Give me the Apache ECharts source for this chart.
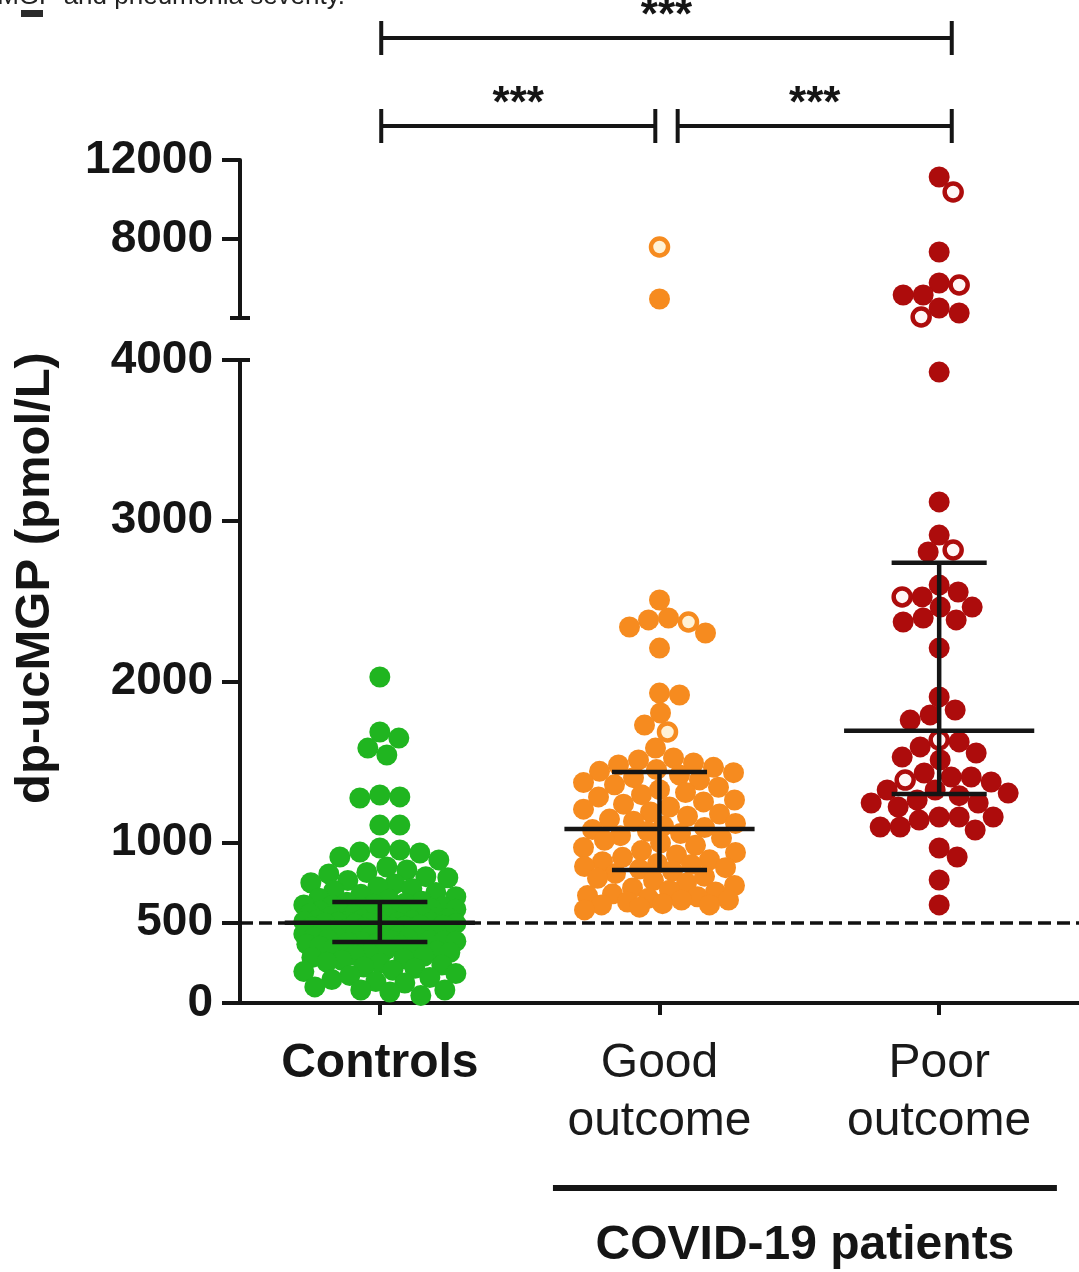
<!DOCTYPE html>
<html><head><meta charset="utf-8">
<script src="https://cdn.jsdelivr.net/npm/echarts@6/dist/echarts.min.js"></script>
<style>html,body{margin:0;padding:0;background:#fff}#c{width:1079px;height:1272px}</style>
</head><body><div id="c"></div>
<script>
// ---------------- data ----------------
const categories = ['Controls', 'Good\noutcome', 'Poor\noutcome'];
const groupColors = ['#20b520', '#f68b1f', '#ad0c0c'];
const openFill = ['#ffffff', '#fff2d6', '#fff6f6'];

const controlsFilled = [2028, 1686, 1648, 1586, 1543, 1294, 1282, 1275, 1107, 1107, 964, 952, 939, 933, 908, 890,
  846, 828, 812, 803, 786, 779, 762, 748, 741, 722, 713, 698, 688, 676, 661, 652, 644, 633,
  627, 621, 614, 610, 606, 598, 594, 589, 583, 580, 572, 569, 563, 558, 556, 549, 547, 542, 538, 534, 531, 526, 523, 519, 516, 513, 511, 507, 505, 503, 502, 501, 500,
  498, 494, 491, 486, 484, 481, 477, 473, 469, 466, 461, 456, 453, 449, 446, 441, 437, 433, 429, 424, 421, 417, 413, 409, 404, 401, 398, 394, 391, 389, 386, 384, 381,
  377, 371, 366, 358, 353, 344, 339, 331, 323, 314, 306, 297, 291, 283, 274, 266, 254, 246, 236, 224, 216, 204, 196, 183, 171, 158, 146, 133, 124, 100, 81, 81, 68, 47];
const controlsOpen = [];

const goodFilled = [4962, 2507, 2395, 2383, 2339, 2302, 2208, 1928, 1916, 1804, 1729, 1586, 1524, 1512, 1493,
  1481, 1466, 1452, 1441,
  1433, 1418, 1402, 1388, 1371, 1357, 1342, 1327, 1309, 1296, 1282, 1263, 1251, 1237, 1219, 1206, 1188, 1176, 1162, 1144,
  1131, 1117, 1102, 1091, 1079, 1068, 1054, 1041, 1026, 1012, 996, 981, 967, 948, 937, 921, 906, 891, 879, 868, 861, 849, 842, 833,
  821, 806, 788, 776, 762, 747, 731, 716, 702, 691, 679, 668, 661, 652, 640, 640, 628, 618, 610, 610, 596, 579];
const goodOpen = [7595, 2370, 1686];

const poorFilled = [11139, 7342, 5772, 5165, 5165, 4506, 4253, 3925, 3117, 2911, 2806,
  2600, 2557, 2526, 2463, 2463, 2395, 2383, 2370, 2208, 1904, 1823, 1792, 1760,
  1624, 1593, 1555, 1530, 1512, 1431, 1406, 1406, 1375, 1325, 1325, 1306, 1290, 1263, 1244, 1244, 1219,
  1157, 1157, 1157, 1138, 1095, 1095, 1076, 964, 908, 765, 610];
const poorOpen = [10380, 5671, 4051, 2818, 2526, 1636, 1387];

const medians = [500, 1083, 1693];
const q1 = [380, 828, 1300];
const q3 = [628, 1437, 2738];

const lowerTicks = [0, 500, 1000, 2000, 3000, 4000];
const upperTicks = [8000, 12000];
const breakValue = 4000;
const upperMax = 12000;
const cutoff = 500;

// significance comparisons: [from group, to group, row]
const comparisons = [[0, 2, 0], [0, 1, 1], [1, 2, 1]];
const sigLabels = ['***', '***', '***'];

const yAxisName = 'dp-ucMGP (pmol/L)';
const groupBracketLabel = 'COVID-19 patients';
const captionText = 'ucMGP and pneumonia severity.';

// ---------------- chart ----------------
const FONT = "'Liberation Sans', Arial, Helvetica, sans-serif";
const INK = '#151515';
const chart = echarts.init(document.getElementById('c'), null, {renderer: 'canvas'});

const tickStyle = {color: INK, width: 4};
const plain = v => String(v);
const capAxis = (gridIndex, min, max, interval, inside) => ({
  gridIndex, type: 'value', min, max, interval, position: 'left', offset: 0,
  axisLine: {show: false, onZero: false}, axisLabel: {show: false}, splitLine: {show: false},
  axisTick: {show: true, inside, length: 10, lineStyle: tickStyle, customValues: [breakValue]}
});
const base = {
  animation: false,
  backgroundColor: '#ffffff',
  grid: [
    {left: 240, right: 0, top: 360, height: 643, containLabel: false, outerBoundsMode: 'none'},
    {left: 240, right: 0, top: 160, height: 158, containLabel: false, outerBoundsMode: 'none'},
    {left: 240, right: 0, top: 0, height: 160, containLabel: false, outerBoundsMode: 'none'}
  ],
  xAxis: [
    {gridIndex: 0, type: 'value', min: -0.5, max: 2.5, interval: 0.5, position: 'bottom',
      axisLine: {show: true, onZero: false, lineStyle: {color: INK, width: 4}},
      axisTick: {show: true, length: 12, lineStyle: tickStyle, customValues: [0, 1, 2]},
      splitLine: {show: false},
      axisLabel: {customValues: [0, 1, 2], margin: 32, color: INK,
        formatter: v => {
          const i = Math.round(v);
          const parts = categories[i].split('\n');
          const key = i === 0 ? 'b' : 'n';
          return parts.map(p => '{' + key + '|' + p + '}').join('\n');
        },
        rich: {
          b: {fontFamily: FONT, fontSize: 48, fontWeight: 'bold', color: INK, lineHeight: 58},
          n: {fontFamily: FONT, fontSize: 48, fontWeight: 'normal', color: '#1a1a1a', lineHeight: 58}
        }}},
    {gridIndex: 1, type: 'value', min: -0.5, max: 2.5, show: false},
    {gridIndex: 2, type: 'value', min: -0.5, max: 2.5, show: false}
  ],
  yAxis: [
    {gridIndex: 0, type: 'value', min: 0, max: breakValue, interval: 500, position: 'left', offset: 0,
      axisLine: {show: true, onZero: false, lineStyle: {color: INK, width: 4}},
      axisTick: {show: true, length: 18, lineStyle: tickStyle, customValues: lowerTicks},
      axisLabel: {customValues: lowerTicks, formatter: plain, margin: 27, color: INK, fontFamily: FONT, fontSize: 46, fontWeight: 'bold'},
      splitLine: {show: false}},
    {gridIndex: 1, type: 'value', min: breakValue, max: upperMax, interval: 4000, position: 'left', offset: 0,
      axisLine: {show: true, onZero: false, lineStyle: {color: INK, width: 4}},
      axisTick: {show: true, length: 18, lineStyle: tickStyle, customValues: upperTicks},
      axisLabel: {customValues: upperTicks, formatter: plain, margin: 27, color: INK, fontFamily: FONT, fontSize: 46, fontWeight: 'bold'},
      splitLine: {show: false}},
    capAxis(1, breakValue, upperMax, 4000, true),
    capAxis(1, breakValue, upperMax, 4000, false),
    capAxis(0, 0, breakValue, 500, true),
    {gridIndex: 2, type: 'value', min: 0, max: 160, inverse: true, show: false, position: 'left'}
  ],
  series: []
};
chart.setOption(base);

const px0 = chart.convertToPixel({xAxisIndex: 0}, 0);
const pxPerUnit = chart.convertToPixel({xAxisIndex: 0}, 1) - px0;

function swarm(items, yAxisIndex) {
  const D = 21, W = 76, thr = D * 0.95;
  const pts = items.map(it => Object.assign({}, it, {py: chart.convertToPixel({yAxisIndex}, it.v)}));
  pts.sort((a, b) => a.py - b.py);
  const cands = [0];
  for (let d = 1; d <= W; d++) { cands.push(d); cands.push(-d); }
  const placed = [];
  for (const p of pts) {
    let best = 0, bestScore = -1;
    for (const dx of cands) {
      let md = Infinity;
      for (const q of placed) {
        const ddy = q.py - p.py;
        if (Math.abs(ddy) >= thr) continue;
        const dist = Math.hypot(q.dx - dx, ddy);
        if (dist < md) md = dist;
      }
      if (md >= thr) { best = dx; break; }
      if (md > bestScore + 0.5) { bestScore = md; best = dx; }
    }
    p.dx = best;
    placed.push(p);
  }
  return pts;
}

const groups = [
  {filled: controlsFilled, open: controlsOpen},
  {filled: goodFilled, open: goodOpen},
  {filled: poorFilled, open: poorOpen}
];
const series = [];
groups.forEach((g, gi) => {
  const all = g.filled.map(v => ({v, open: false})).concat(g.open.map(v => ({v, open: true})));
  [{ax: 0, test: v => v <= breakValue}, {ax: 1, test: v => v > breakValue}].forEach(seg => {
    const items = all.filter(it => seg.test(it.v));
    if (!items.length) return;
    const pts = swarm(items, seg.ax);
    const toData = arr => arr.map(p => [gi + p.dx / pxPerUnit, p.v]);
    series.push({type: 'scatter', xAxisIndex: seg.ax, yAxisIndex: seg.ax, z: 2, clip: false,
      symbol: 'circle', symbolSize: 21, silent: true,
      itemStyle: {color: groupColors[gi], opacity: 1},
      data: toData(pts.filter(p => !p.open))});
    const od = pts.filter(p => p.open);
    if (od.length) series.push({type: 'scatter', xAxisIndex: seg.ax, yAxisIndex: seg.ax, z: 3, clip: false,
      symbol: 'circle', symbolSize: 17, silent: true,
      itemStyle: {color: openFill[gi], borderColor: groupColors[gi], borderWidth: 4.5, opacity: 1},
      data: toData(od)});
  });
});

// cutoff dashed line
series.push({type: 'scatter', xAxisIndex: 0, yAxisIndex: 0, data: [], z: 4,
  markLine: {silent: true, symbol: ['none', 'none'], label: {show: false}, animation: false,
    lineStyle: {type: [13, 6], color: '#111', width: 3.5}, data: [{yAxis: cutoff}]}});

// median & IQR
series.push({type: 'custom', xAxisIndex: 0, yAxisIndex: 0, z: 6, clip: false, silent: true,
  encode: {x: 0, y: [1, 2, 3]},
  data: medians.map((m, i) => [i, m, q1[i], q3[i]]),
  renderItem: (params, api) => {
    const g = api.value(0), m = api.value(1), lo = api.value(2), hi = api.value(3);
    const L = (x1, y1, x2, y2) => {
      const a = api.coord([x1, y1]), b = api.coord([x2, y2]);
      return {type: 'line', shape: {x1: a[0], y1: a[1], x2: b[0], y2: b[1]}, style: {stroke: INK, lineWidth: 4.5}};
    };
    return {type: 'group', children: [
      L(g - 0.34, m, g + 0.34, m), L(g, lo, g, hi),
      L(g - 0.17, lo, g + 0.17, lo), L(g - 0.17, hi, g + 0.17, hi)]};
  }});

// significance brackets
const rowLevels = [38, 126];
series.push({type: 'custom', xAxisIndex: 2, yAxisIndex: 5, z: 6, clip: false, silent: true,
  encode: {x: [0, 1], y: 2},
  data: comparisons.map((c, i) => [c[0], c[1], c[2], i]),
  renderItem: (params, api) => {
    const f = api.value(0), t = api.value(1), row = api.value(2), idx = api.value(3);
    const x1 = f + (f > 0 ? 0.065 : 0.005);
    const x2 = t + (t < 2 ? -0.015 : 0.045);
    const lv = rowLevels[row];
    const a = api.coord([x1, lv]), b = api.coord([x2, lv]);
    const st = {stroke: INK, lineWidth: 4};
    return {type: 'group', children: [
      {type: 'line', shape: {x1: a[0], y1: a[1], x2: b[0], y2: b[1]}, style: st},
      {type: 'line', shape: {x1: a[0], y1: a[1] - 17, x2: a[0], y2: a[1] + 17}, style: st},
      {type: 'line', shape: {x1: b[0], y1: b[1] - 17, x2: b[0], y2: b[1] + 17}, style: st},
      {type: 'text', style: {text: sigLabels[idx], x: (a[0] + b[0]) / 2, y: a[1] - 21,
        align: 'center', verticalAlign: 'middle', font: 'bold 44px ' + FONT, fill: INK}}
    ]};
  }});

const pL = chart.convertToPixel({xAxisIndex: 0}, 1 - 0.381);
const pR = chart.convertToPixel({xAxisIndex: 0}, 2 + 0.421);

chart.setOption({
  series,
  graphic: [
    {type: 'text', x: 35, y: 578, rotation: Math.PI / 2,
      style: {text: yAxisName, font: 'bold 49px ' + FONT, fill: INK, align: 'center', verticalAlign: 'middle'}},
    {type: 'text', x: 345, y: 10,
      style: {text: captionText, font: '26px ' + FONT, fill: '#222', align: 'right', verticalAlign: 'bottom'}},
    {type: 'rect', shape: {x: 21, y: 10, width: 22, height: 7}, style: {fill: '#2a2a2a'}},
    {type: 'line', shape: {x1: pL, y1: 1188, x2: pR, y2: 1188}, style: {stroke: INK, lineWidth: 6}},
    {type: 'text', x: (pL + pR) / 2, y: 1246,
      style: {text: groupBracketLabel, font: 'bold 48px ' + FONT, fill: INK, align: 'center', verticalAlign: 'middle'}}
  ]
});
</script></body></html>
